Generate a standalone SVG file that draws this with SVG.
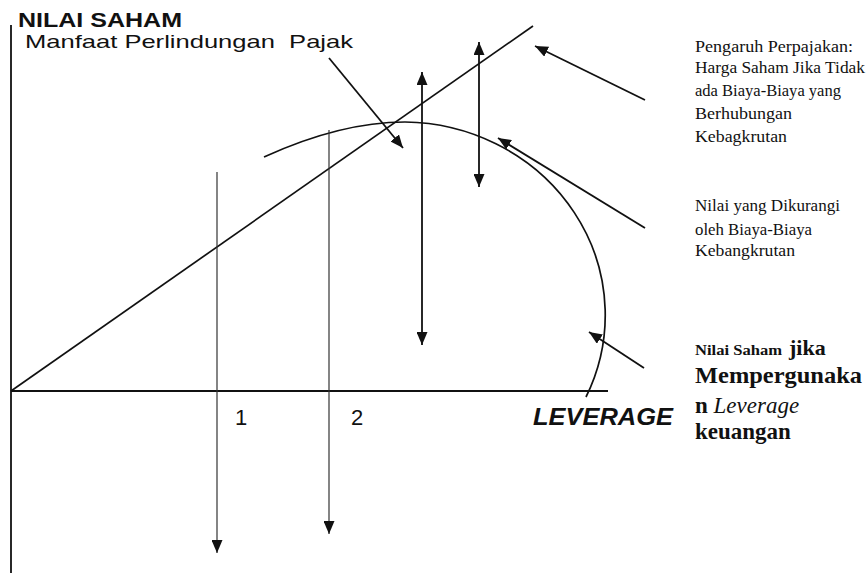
<svg xmlns="http://www.w3.org/2000/svg" width="868" height="573" viewBox="0 0 868 573">
<style>
.ln{stroke:#111;stroke-width:1.7;fill:none}
.ax{stroke:#111;stroke-width:1.8;fill:none}
.thin{stroke:#333;stroke-width:1.2;fill:none}
.arr{stroke:#111;stroke-width:1.8;fill:none}
.sans{font-family:"Liberation Sans",Arial,sans-serif;fill:#111}
.serif{font-family:"Liberation Serif","Times New Roman",serif;fill:#111}
</style>
<defs>
<marker id="ah" viewBox="0 0 13 11" refX="13" refY="5.5" markerWidth="13" markerHeight="11" markerUnits="userSpaceOnUse" orient="auto-start-reverse">
<path d="M0,0 L13,5.5 L0,11 z" fill="#111"/>
</marker>
</defs>
<rect width="868" height="573" fill="#fff"/>
<g id="axes">
<line class="ax" x1="11" y1="25" x2="11" y2="573"/>
<line class="ax" x1="11" y1="391" x2="608" y2="391"/>
</g>
<g id="tax-line"><line class="ln" x1="11" y1="391" x2="533" y2="26"/></g>
<g id="leverage-curve"><path class="ln" d="M264,157 C310,136 360,122 405,122 A203 193 0 0 1 586,397"/></g>
<g id="connectors">
<line class="thin" x1="217" y1="172" x2="217" y2="553" marker-end="url(#ah)"/>
<line class="thin" x1="329" y1="130" x2="329" y2="534" marker-end="url(#ah)"/>
<line class="arr" x1="422" y1="72" x2="422" y2="345" marker-start="url(#ah)" marker-end="url(#ah)"/>
<line class="arr" x1="479" y1="42" x2="479" y2="187" marker-start="url(#ah)" marker-end="url(#ah)"/>
<line class="arr" x1="329" y1="58" x2="403" y2="148" marker-end="url(#ah)"/>
<line class="arr" x1="645" y1="100" x2="535" y2="46" marker-end="url(#ah)"/>
<line class="arr" x1="645" y1="228" x2="498" y2="138" marker-end="url(#ah)"/>
<line class="arr" x1="644" y1="368" x2="589" y2="332" marker-end="url(#ah)"/>
</g>
<g id="title">
<text class="sans" x="18" y="27" font-size="20" font-weight="bold" textLength="164" lengthAdjust="spacingAndGlyphs">NILAI SAHAM</text>
<text class="sans" x="25" y="48" font-size="18.5" textLength="328" lengthAdjust="spacingAndGlyphs" xml:space="preserve">Manfaat Perlindungan  Pajak</text>
</g>
<g id="axis-labels">
<text class="sans" x="235" y="425" font-size="22">1</text>
<text class="sans" x="351" y="425" font-size="22">2</text>
<text class="sans" x="533" y="425" font-size="23" font-style="italic" font-weight="bold" textLength="140" lengthAdjust="spacingAndGlyphs">LEVERAGE</text>
</g>
<g id="label-pajak" class="serif" font-size="16">
<text x="695" y="52" textLength="158" lengthAdjust="spacingAndGlyphs">Pengaruh Perpajakan:</text>
<text x="695" y="73" textLength="170" lengthAdjust="spacingAndGlyphs">Harga Saham Jika Tidak</text>
<text x="695" y="96" textLength="146" lengthAdjust="spacingAndGlyphs">ada Biaya-Biaya yang</text>
<text x="695" y="119" textLength="97" lengthAdjust="spacingAndGlyphs">Berhubungan</text>
<text x="695" y="142" textLength="92" lengthAdjust="spacingAndGlyphs">Kebagkrutan</text>
</g>
<g id="label-dikurangi" class="serif" font-size="16">
<text x="695" y="211" textLength="145" lengthAdjust="spacingAndGlyphs">Nilai yang Dikurangi</text>
<text x="695" y="235" textLength="117" lengthAdjust="spacingAndGlyphs">oleh Biaya-Biaya</text>
<text x="695" y="256" textLength="100" lengthAdjust="spacingAndGlyphs">Kebangkrutan</text>
</g>
<g id="label-leverage" class="serif" font-weight="bold">
<text x="695" y="355" font-size="14" textLength="87" lengthAdjust="spacingAndGlyphs">Nilai Saham</text>
<text x="789" y="355" font-size="22">jika</text>
<text x="695" y="383" font-size="23" textLength="167" lengthAdjust="spacingAndGlyphs">Mempergunaka</text>
<text x="695" y="413" font-size="23">n <tspan font-style="italic" font-weight="normal">Leverage</tspan></text>
<text x="695" y="439" font-size="23">keuangan</text>
</g>
</svg>
